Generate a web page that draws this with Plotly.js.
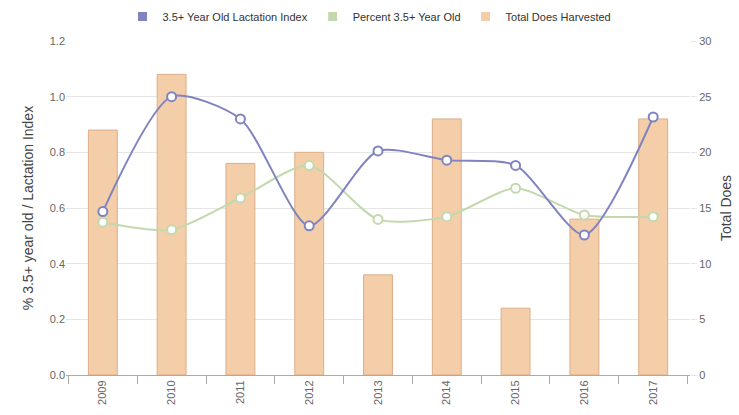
<!DOCTYPE html>
<html><head><meta charset="utf-8">
<script src="https://cdn.plot.ly/plotly-3.0.1.min.js"></script>
<style>html,body{margin:0;padding:0;background:#fff;}#chart{width:739px;height:415px;}</style>
</head><body><div id="chart"></div>
<script>
const years = ["2009","2010","2011","2012","2013","2014","2015","2016","2017"];
const lactationIndex = [0.587, 1.0, 0.92, 0.536, 0.805, 0.772, 0.753, 0.503, 0.927];
const percentOld = [0.549, 0.522, 0.636, 0.753, 0.559, 0.569, 0.671, 0.575, 0.569];
const totalDoes = [22, 27, 19, 20, 9, 23, 6, 14, 23];

const blue = "#7f84c0", green = "#c3d9ad", barFill = "#f4cda9", barLine = "#dcae8a";
const font = "Liberation Sans, Arial, sans-serif";

const traces = [
  {type:"bar", x:years, y:totalDoes, yaxis:"y", name:"Total Does Harvested", showlegend:false,
   width:0.42, marker:{color:barFill, line:{color:barLine, width:1}}},
  {type:"scatter", mode:"lines+markers", x:years, y:percentOld, yaxis:"y2", name:"Percent 3.5+ Year Old", showlegend:false,
   line:{color:green, width:2, shape:"spline", smoothing:0.7},
   marker:{size:9, color:"#fff", line:{color:green, width:2}}},
  {type:"scatter", mode:"lines+markers", x:years, y:lactationIndex, yaxis:"y2", name:"3.5+ Year Old Lactation Index", showlegend:false,
   line:{color:blue, width:2, shape:"spline", smoothing:0.7},
   marker:{size:9, color:"#fff", line:{color:blue, width:2}}},
  {type:"scatter", mode:"markers", x:[null], y:[null], yaxis:"y2", name:"3.5+ Year Old Lactation Index", marker:{symbol:"square", size:9, color:blue}},
  {type:"scatter", mode:"markers", x:[null], y:[null], yaxis:"y2", name:"Percent 3.5+ Year Old", marker:{symbol:"square", size:9, color:green}},
  {type:"scatter", mode:"markers", x:[null], y:[null], yaxis:"y2", name:"Total Does Harvested", marker:{symbol:"square", size:9, color:barFill}}
];

const layout = {
  width:739, height:415,
  margin:{l:66, r:49, t:41, b:40},
  paper_bgcolor:"#fff", plot_bgcolor:"#fff",
  font:{family:font, size:11, color:"#666"},
  showlegend:true,
  legend:{orientation:"h", x:0.5, xanchor:"center", xref:"container", y:0.995, yanchor:"top", yref:"container",
          font:{size:11, color:"#333"}, traceorder:"normal", tracegroupgap:0},
  xaxis:{type:"category", tickangle:-90, ticks:"outside", ticklen:8, tickcolor:"#aaa", tickson:"boundaries",
         showline:true, linecolor:"#aaa", linewidth:1, showgrid:false, zeroline:false, tickfont:{size:11, color:"#666"}},
  yaxis:{range:[0,30], dtick:5, side:"right", showgrid:true, gridcolor:"#e6e6e6", zeroline:false,
         ticks:"outside", ticklen:6, tickcolor:"#e6e6e6",
         title:{text:"Total Does", font:{size:14, color:"#444"}, standoff:10},
         tickfont:{size:11, color:"#666"}},
  yaxis2:{range:[0,1.2], dtick:0.2, tickformat:".1f", overlaying:"y", side:"left", showgrid:false, zeroline:false,
         title:{text:"% 3.5+ year old / Lactation Index", font:{size:14, color:"#444"}, standoff:12},
         tickfont:{size:11, color:"#666"}},
  bargap:0.58
};
Plotly.newPlot("chart", traces, layout, {displayModeBar:false, staticPlot:true});
</script></body></html>
